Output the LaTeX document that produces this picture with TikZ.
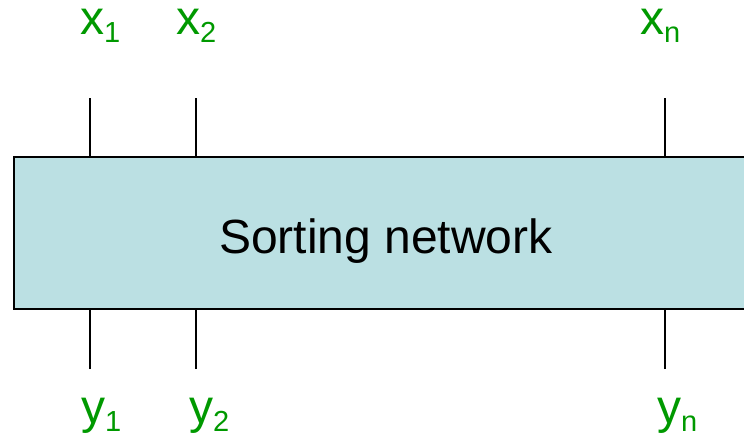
\documentclass[tikz,border=0pt]{standalone}
\usepackage{fontspec}
\setmainfont{Liberation Sans}
\definecolor{netfill}{RGB}{187,224,227}
\definecolor{labelgreen}{RGB}{0,153,0}
\newcommand{\wirelabel}[2]{{\fontsize{48}{48}\selectfont #1}{\fontsize{29}{29}\selectfont\raisebox{-8pt}{#2}}}
\begin{document}
\begin{tikzpicture}[x=1pt,y=-1pt,
  netbox/.style={draw=black,line width=2.6pt,fill=netfill,rectangle,inner sep=0pt,
    minimum width=746pt,minimum height=152pt},
  wire/.style={draw=black,line width=2pt},
  lbl/.style={text=labelgreen,anchor=base west,inner sep=0pt}]
  \useasboundingbox (0,0) rectangle (744,436);
  \clip (0,0) rectangle (744,436);
  % the network block, running off the right edge
  \node[netbox] (net) at (387,233) {};
  \node[anchor=base,inner sep=0pt,font=\fontsize{48}{48}\selectfont] (title) at (386,253) {Sorting network};
  % free ends of the input and output wires
  \coordinate (in1) at (90,98);
  \coordinate (in2) at (196,98);
  \coordinate (inn) at (665,98);
  \coordinate (out1) at (90,369);
  \coordinate (out2) at (196,369);
  \coordinate (outn) at (665,369);
  \foreach \w in {1,2,n} {
    \draw[wire] (in\w) -- (in\w |- net.north);
    \draw[wire] (out\w) -- (out\w |- net.south);
  }
  % wire labels
  \node[lbl] (lx1) at (80,35) {\wirelabel{x}{1}};
  \node[lbl] (lx2) at (176,35) {\wirelabel{x}{2}};
  \node[lbl] (lxn) at (640,35) {\wirelabel{x}{n}};
  \node[lbl] (ly1) at (81,423) {\wirelabel{y}{1}};
  \node[lbl] (ly2) at (189,423) {\wirelabel{y}{2}};
  \node[lbl] (lyn) at (657,423) {\wirelabel{y}{n}};
\end{tikzpicture}
\end{document}
